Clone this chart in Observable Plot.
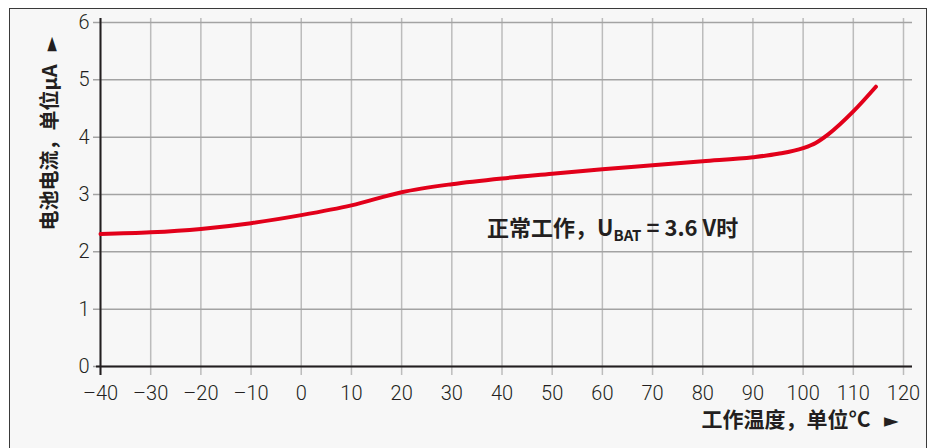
<!DOCTYPE html>
<html>
<head>
<meta charset="utf-8">
<script src="https://cdn.jsdelivr.net/npm/d3@7"></script>
<script src="https://cdn.jsdelivr.net/npm/@observablehq/plot@0.6"></script>
<style>
  html, body { margin: 0; padding: 0; background: #ffffff; width: 935px; height: 448px; overflow: hidden; }
  #frame { position: absolute; left: 9px; top: 8px; width: 916px; height: 460px; border: 1.5px solid #3a3a3a; background: #f7f7f7; }
  #chart { position: absolute; left: 0; top: 0; }
</style>
</head>
<body>
<div id="frame"></div>
<div id="chart"></div>
<script>
// Temperature (°C) and battery current (µA)
const temps   = [-40, -30, -20, -10, 0, 10, 20, 30, 40, 50, 60, 70, 80, 90, 95, 100, 102.5, 105, 110, 114.5];
const current = [2.31, 2.34, 2.40, 2.50, 2.64, 2.81, 3.04, 3.18, 3.28, 3.36, 3.44, 3.51, 3.58, 3.65, 3.71, 3.81, 3.90, 4.05, 4.45, 4.88];

const xTicks = [-40, -30, -20, -10, 0, 10, 20, 30, 40, 50, 60, 70, 80, 90, 100, 110, 120];
const yTicks = [0, 1, 2, 3, 4, 5, 6];

const yLabel = "电池电流，单位μA ►";
const xLabel = "工作温度，单位°C ►";
const noteText = ["正常工作，U_BAT = 3.6 V时"];
const noteX = [37];
const noteY = [2.40];

const data = temps.map((t, i) => ({t, v: current[i]}));
const notes = noteText.map((s, i) => ({s, x: noteX[i], y: noteY[i]}));

const ink = "#231f20";
const cjk = "'Noto Sans CJK SC', 'Noto Sans', sans-serif";

const chart = Plot.plot({
  width: 935,
  height: 448,
  marginLeft: 100,
  marginRight: 32,
  marginTop: 22,
  marginBottom: 82,
  x: {domain: [-40, 120]},
  y: {domain: [0, 6]},
  style: {background: "transparent", fontFamily: "Roboto, 'Liberation Sans', sans-serif", color: ink, overflow: "visible"},
  marks: [
    Plot.ruleX(xTicks, {stroke: "#bcbcbc", strokeWidth: 1.5, insetTop: -4, insetBottom: -9}),
    Plot.ruleY(yTicks, {stroke: "#a3a3a3", strokeWidth: 1.5, insetLeft: -7, insetRight: -9}),
    Plot.ruleY([0], {stroke: ink, strokeWidth: 2, insetLeft: -4, insetRight: -9}),
    Plot.ruleX([-40], {stroke: ink, strokeWidth: 2, insetTop: -4, insetBottom: -9}),
    Plot.line(data, {x: "t", y: "v", stroke: "#e2001a", strokeWidth: 4, curve: "monotone-x"}),
    Plot.axisX({ticks: xTicks, tickSize: 0, tickPadding: 19, fontSize: 20, fontWeight: 300, fill: ink,
      tickFormat: d => d < 0 ? "\u2013" + (-d) : String(d), label: null}),
    Plot.axisY({ticks: yTicks, tickSize: 0, tickPadding: 11, fontSize: 20, fontWeight: 300, fill: ink,
      tickFormat: d => String(d), label: null}),
    Plot.text([yLabel], {frameAnchor: "top-left", dx: -58, dy: 208, rotate: -90, textAnchor: "start",
      fontSize: 20, fontWeight: "bold", fontFamily: cjk, fill: ink}),
    Plot.text([xLabel], {frameAnchor: "bottom-right", dx: -5, dy: 60, textAnchor: "end",
      fontSize: 21, fontWeight: "bold", fontFamily: cjk, fill: ink}),
    Plot.text(notes, {x: "x", y: "y", text: "s", textAnchor: "start",
      fontSize: 22, fontWeight: "bold", fontFamily: cjk, fill: ink})
  ]
});

const ns = "http://www.w3.org/2000/svg";
function span(t, txt, attrs) {
  const s = document.createElementNS(ns, "tspan");
  s.textContent = txt;
  for (const k in attrs) s.setAttribute(k, attrs[k]);
  t.appendChild(s);
}
chart.querySelectorAll("text").forEach(t => {
  const c = t.textContent;
  if (c.includes("_BAT")) {
    const [a, b] = c.split("_BAT");
    t.textContent = "";
    span(t, a, {});
    span(t, "BAT", {"font-size": 15, dy: 5});
    span(t, b, {dy: -5});
  } else if (c.includes("►")) {
    const a = c.replace(" ►", "");
    t.textContent = "";
    span(t, a, {});
    span(t, "\u00a0\u00a0►", {"font-family": "'DejaVu Sans', sans-serif", "font-size": 19});
  }
});

document.getElementById("chart").appendChild(chart);
</script>
</body>
</html>
